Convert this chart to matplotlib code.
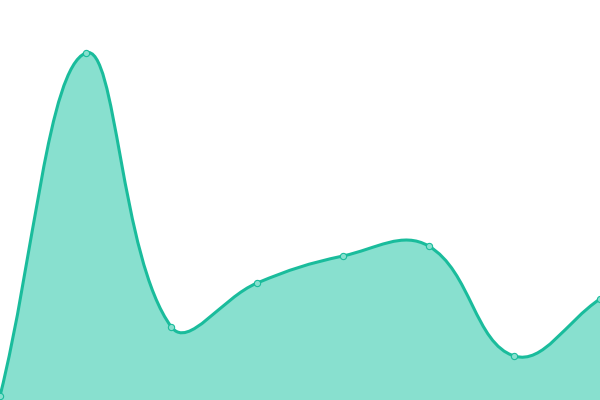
import numpy as np
import matplotlib
matplotlib.use("Agg")
import matplotlib.pyplot as plt
from matplotlib.path import Path
from matplotlib.patches import PathPatch

# values (chart units, 0 at the bottom)
values = [4, 347, 73, 117, 144, 154, 44, 101]
line_color = "#1abc9c"
fill_color = "#88e0cf"
tension = 0.4

n = len(values)
xs = np.arange(n) * 600 / (n - 1)
ys = np.array(values, dtype=float)


def controls(i):
    # Chart.js style spline control points (tension 0.4)
    p = np.array([xs[i], ys[i]])
    prev = np.array([xs[max(i - 1, 0)], ys[max(i - 1, 0)]])
    nxt = np.array([xs[min(i + 1, n - 1)], ys[min(i + 1, n - 1)]])
    d01 = np.hypot(*(p - prev))
    d12 = np.hypot(*(nxt - p))
    tot = d01 + d12
    s01 = d01 / tot if tot else 0
    s12 = d12 / tot if tot else 0
    c_prev = p - tension * s01 * (nxt - prev)
    c_next = p + tension * s12 * (nxt - prev)
    c_prev[1] = min(max(c_prev[1], 0), 400)
    c_next[1] = min(max(c_next[1], 0), 400)
    return c_prev, c_next


verts = [(xs[0], ys[0])]
codes = [Path.MOVETO]
for i in range(n - 1):
    _, c1 = controls(i)
    c2, _ = controls(i + 1)
    verts += [tuple(c1), tuple(c2), (xs[i + 1], ys[i + 1])]
    codes += [Path.CURVE4] * 3

fig = plt.figure(figsize=(6, 4), dpi=100)
ax = fig.add_axes([0, 0, 1, 1])
ax.set_xlim(0, 600)
ax.set_ylim(0, 400)
ax.axis("off")

# filled area down to the bottom
fill_verts = verts + [(xs[-1], 0), (xs[0], 0), (xs[0], ys[0])]
fill_codes = codes + [Path.LINETO, Path.LINETO, Path.CLOSEPOLY]
ax.add_patch(PathPatch(Path(fill_verts, fill_codes), facecolor=fill_color,
                       edgecolor="none"))

# line on top
ax.add_patch(PathPatch(Path(verts, codes), facecolor="none",
                       edgecolor=line_color, linewidth=2.2))

ax.plot(xs, ys, "o", markersize=4.5, markerfacecolor=fill_color,
        markeredgecolor=line_color, markeredgewidth=0.8, zorder=5)

fig.savefig("out.png", dpi=100)
